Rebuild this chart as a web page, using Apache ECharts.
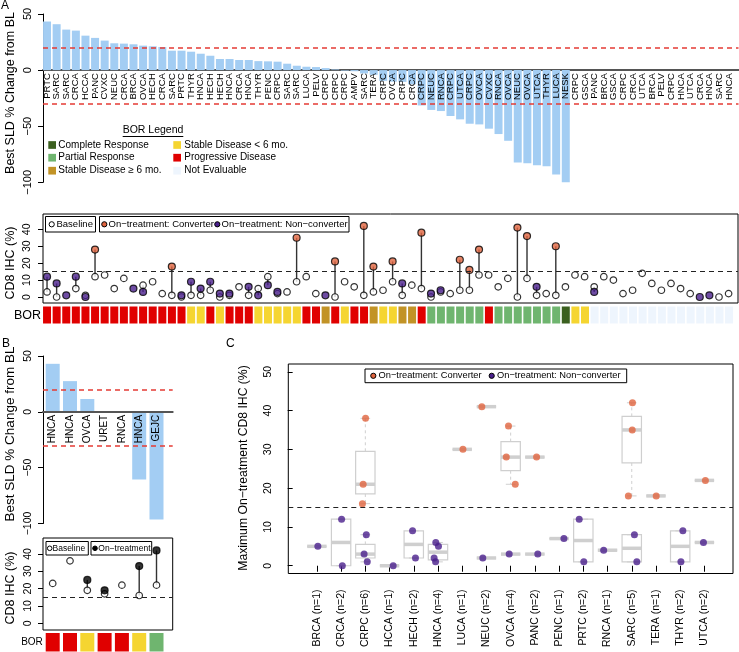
<!DOCTYPE html>
<html><head><meta charset="utf-8">
<script src="https://cdn.jsdelivr.net/npm/echarts@6/dist/echarts.min.js"></script>
<style>html,body{margin:0;padding:0;background:#fff}#c{width:739px;height:652px}</style>
</head><body><div id="c"></div>
<script>
// ---------------- DATA ----------------
// Panel A: waterfall categories (tumour types), best SLD % change, BOR, CD8 IHC
const waterfallCats = ['PRTC','SARC','SARC','CRCA','HCCA','PANC','CVXC','NEUC','CRCA','BRCA',
  'OVCA','HECH','CRCA','SARC','PRTC','THYR','HNCA','HECH','HECH','HNCA',
  'CRCA','HNCA','THYR','PENC','CRPC','SARC','SARC','LUCA','PELV','CRPC',
  'CRPC','CRPC','AMPV','SARC','TERA','CRPC','OVCA','CRPC','CRCA','CRPC',
  'NEUC','RNCA','CRPC','UTCA','CRPC','OVCA','CVXC','RNCA','OVCA','NEUC',
  'OVCA','UTCA','THYR','LUCA','NESK','CRPC','GSCA','PANC','BRCA','GSCA',
  'CRPC','CRCA','UTCA','BRCA','PELV','CRPC','HNCA','UTCA','CRCA','HNCA',
  'SARC','HNCA'];
const waterfallChange = [43.3,40.9,36.1,35.2,30.7,28.7,26.3,23.9,23.6,23.0,
  21.8,21.2,20.6,17.3,17.3,16.4,14.6,12.8,9.9,9.9,
  9.0,9.0,8.0,7.8,7.5,5.7,3.9,3.0,2.7,1.8,
  0.6,-0.5,-1.0,-3.0,-4.2,-9.6,-10.3,-10.5,-12.6,-31.5,
  -35.5,-36.5,-40.9,-43.9,-47.8,-48.4,-52.2,-57.0,-63.0,-82.4,
  -83.0,-84.8,-85.7,-93.0,-100.0,null,null,null,null,null,
  null,null,null,null,null,null,null,null,null,null,
  null,null];
const borA = ['PD','PD','PD','PD','PD','PD','PD','PD','PD','PD',
  'PD','PD','PD','PD','PD','SD','SD','PD','SD','PD',
  'PD','PD','SD','SD','SD','SD','SD','PD','PD','SD6',
  'PD','SD','PD','PD','SD6','SD','SD','SD6','SD6','PD',
  'PR','PR','PR','PR','PR','PR','PD','PR','PR','PR',
  'PR','PR','PR','PR','CR','SD','SD','NE','NE','NE',
  'NE','NE','NE','NE','NE','NE','NE','NE','NE','NE',
  'NE','NE'];
const cd8Baseline = [3,0,null,5,1,12,13,5,11,null,
  7,9,2,1,0,1,1,4,0,1,
  6,1,5,12,2,3,9,12,2,null,
  0,9,6,1,3,4,9,1,7,5,
  0,3,2,4,4,13,13,6,11,0,
  11,1,2,1,6,13,12,6,12,10,
  2,4,14,8,4,8,5,2,null,null,
  0,2];
const cd8Converter = [null,null,null,null,null,28,null,null,null,null,
  null,null,null,18,null,null,null,null,null,null,
  null,null,null,null,null,null,35,null,null,null,
  21,null,null,42,18,null,21,null,null,38,
  null,null,null,22,16,28,null,null,null,41,
  36,null,null,30,null,null,null,null,null,null,
  null,null,null,null,null,null,null,null,null,null,
  null,null];
const cd8NonConverter = [12,8,1,12,0,null,null,null,null,5,
  3,null,null,null,1,9,5,9,2,2,
  null,6,1,7,3,null,null,null,null,1,
  null,null,null,null,null,null,null,8,null,null,
  2,4,null,null,null,null,null,null,null,null,
  null,6,null,null,null,null,null,3,null,null,
  null,null,null,null,null,null,null,null,0,1,
  null,null];

// Panel B
const bCats = ['HNCA','HNCA','OVCA','URET','RNCA','HNCA','GEJC'];
const bChange = [43.0,27.5,11.5,null,null,-60.5,-96.5];
const bBaseline = [23,36,19,17,22,16,22];
const bOnTreatment = [null,null,25,19,null,33,42];
const borB = ['PD','PD','SD','PD','PD','SD','PR'];

// Panel C: tumour types, points [type position, horizontal jitter, max on-treatment CD8 %]
const cTickLabels = ['BRCA (n=1)','CRCA (n=2)','CRPC (n=6)','HCCA (n=1)','HECH (n=2)','HNCA (n=4)',
  'LUCA (n=1)','NEUC (n=2)','OVCA (n=4)','PANC (n=2)','PENC (n=1)','PRTC (n=2)','RNCA (n=1)',
  'SARC (n=5)','TERA (n=1)','THYR (n=2)','UTCA (n=2)'];
const cConverterPts = [[3,0.01,38],[3,-0.09,21],[3,-0.12,16],[7,0.03,30],[8,-0.19,41],
  [9,-0.09,36],[9,-0.18,28],[9,0.19,21],[10,0.07,28],[14,0.03,42],[14,0.02,35],[14,-0.14,18],
  [15,0.01,18],[17,0.04,22]];
const cNonConverterPts = [[1,0.04,5],[2,0.02,12],[2,0.05,0],[3,0.04,8],[3,-0.05,3],[3,0.08,1],
  [4,0.15,0],[5,-0.05,9],[5,0.07,2],[6,-0.09,6],[6,0.02,5],[6,-0.16,2],[6,-0.10,1],
  [8,-0.15,2],[9,-0.06,3],[10,0.12,3],[11,0.20,7],[12,-0.17,12],[12,0.02,1],[13,-0.16,4],
  [14,0.11,8],[14,0.21,1],[16,0.11,9],[16,0.03,1],[17,-0.04,6]];

// BOR legend
const borLegendCol1 = [['CR','Complete Response'],['PR','Partial Response'],['SD6','Stable Disease \u2265 6 mo.']];
const borLegendCol2 = [['SD','Stable Disease < 6 mo.'],['PD','Progressive Disease'],['NE','Not Evaluable']];

// ---------------- STYLE ----------------
const FONT = '"Liberation Sans", Arial, Helvetica, sans-serif';
const BLUE = '#a3cdf3';
const ORANGE = '#e0643f';
const PURPLE = '#4a1f8c';
const borColors = {CR:'#3b601f', PR:'#6fb56f', SD6:'#c29326', SD:'#f5d531', PD:'#e00000', NE:'#eef5fd'};
const minus = v => v < 0 ? '\u2212' + Math.abs(v) : String(v);
const XA = {min:0.58, max:72.98};
const XB = {min:0.439, max:7.936};
const XC = {min:-0.18, max:18.18};
const SLD = {min:-100, max:50};
const idxA = waterfallCats.map((_, i) => i + 1);
const idxB = bCats.map((_, i) => i + 1);
const idxC = cTickLabels.map((_, i) => i + 1);
const GA = {left: 43, top: 14, width: 695.5, height: 168.3};
const bandA = GA.width / (XA.max - XA.min);          // px per category in panel A
const GA_LBL = {left: GA.left + (0.5 - XA.min) * bandA, top: GA.top, width: waterfallCats.length * bandA, height: GA.height};
const GB = {left: 43, top: 356, width: 129.7, height: 167.5};
// shift the bottom axis up to the zero line of the SLD scale
const zeroOffset = g => -g.height * (0 - SLD.min) / (SLD.max - SLD.min);

function fivenum(arr) {
  const x = arr.slice().sort((a, b) => a - b), n = x.length;
  const n4 = Math.floor((n + 3) / 2) / 2;
  const d = [1, n4, (n + 1) / 2, n + 1 - n4, n];
  return d.map(k => 0.5 * (x[Math.floor(k) - 1] + x[Math.ceil(k) - 1]));
}
function boxStats(pts) {
  const groups = {};
  pts.forEach(p => { (groups[p[0]] = groups[p[0]] || []).push(p[2]); });
  return Object.keys(groups).map(k => [Number(k)].concat(fivenum(groups[k])));
}
const cBoxes = boxStats(cConverterPts).concat(boxStats(cNonConverterPts));

function stems(base, on) {
  const out = [];
  base.forEach((b, i) => { if (b != null && on[i] != null) out.push([i + 1, b, on[i]]); });
  return out;
}
const pairs = arr => arr.map((v, i) => v == null ? null : [i + 1, v]).filter(Boolean);
const stemsA = stems(cd8Baseline, cd8Converter.map((v, i) => v != null ? v : cd8NonConverter[i]));
const stemsB = stems(bBaseline, bOnTreatment);

// ---------------- GRAPHICS (text, legends) ----------------
const G = [];
const T = (x, y, text, size, o = {}) => G.push({
  type: 'text', x, y, rotation: o.rot || 0, z: 100,
  style: { text, fill: '#000', font: size + 'px ' + FONT,
    align: o.align || 'left', verticalAlign: 'middle',
    textAlign: o.align || 'left', textVerticalAlign: 'middle' }
});
const RC = (x, y, w, h, fill, stroke) => G.push({type:'rect', z:99, shape:{x, y, width:w, height:h},
  style:{fill: fill, stroke: stroke, lineWidth: 1}});
const CI = (cx, cy, r, fill) => G.push({type:'circle', z:101, shape:{cx, cy, r}, style:{fill, stroke:'#000', lineWidth:1}});
const LN = (x1, y1, x2, y2) => G.push({type:'line', z:100, shape:{x1, y1, x2, y2}, style:{stroke:'#000', lineWidth:1}});
const ROT = Math.PI / 2;

T(1, 6, 'A', 12); T(2, 344, 'B', 12); T(226, 344, 'C', 12);
T(11, 93, 'Best SLD % Change from BL', 12.5, {rot: ROT, align: 'center'});
T(11, 263, 'CD8 IHC (%)', 12.5, {rot: ROT, align: 'center'});
T(10, 434, 'Best SLD % Change from BL', 13.5, {rot: ROT, align: 'center'});
T(11, 588, 'CD8 IHC (%)', 12.5, {rot: ROT, align: 'center'});
T(244, 468, 'Maximum On\u2212treatment CD8 IHC (%)', 12.2, {rot: ROT, align: 'center'});
T(27.5, 315.5, 'BOR', 12.5, {align: 'center'});
T(32, 642, 'BOR', 10, {align: 'center'});

// BOR legend
T(153, 130, 'BOR Legend', 10.5, {align: 'center'});
LN(122.7, 136.5, 183.3, 136.5);
const rowsY = [145, 157.7, 170.7];
borLegendCol1.forEach((e, i) => { RC(48.3, rowsY[i] - 3.85, 7.7, 7.7, borColors[e[0]], 'none'); T(58.3, rowsY[i], e[1], 10); });
borLegendCol2.forEach((e, i) => { RC(173.3, rowsY[i] - 3.85, 7.7, 7.7, borColors[e[0]], 'none'); T(184.3, rowsY[i], e[1], 10); });

// Panel A CD8 legend
RC(45.5, 216.5, 50, 15.5, '#fff', '#000');
CI(51.7, 224.3, 2.6, '#fff'); T(56.5, 224.3, 'Baseline', 9.5);
RC(99.5, 216.5, 249.5, 15.5, '#fff', '#000');
CI(104.3, 224.3, 2.6, ORANGE); T(108.5, 224.3, 'On\u2212treatment: Converter', 9.5);
CI(217.3, 224.3, 2.6, PURPLE); T(221.5, 224.3, 'On\u2212treatment: Non\u2212converter', 9.5);
// Panel B CD8 legend
RC(46, 541.5, 42.3, 13.5, '#fff', '#000');
CI(49.7, 548.3, 2.3, '#fff'); T(52.5, 548.3, 'Baseline', 8.5);
RC(91, 541.5, 60.7, 13.5, '#fff', '#000');
CI(95, 548.3, 2.3, '#000'); T(98.3, 548.3, 'On\u2212treatment', 8.5);
// Panel C legend
RC(365, 369, 261.7, 13.7, '#fff', '#000');
CI(373.3, 375.8, 2.6, ORANGE); T(378.5, 375.8, 'On\u2212treatment: Converter', 9.3);
CI(491.7, 375.8, 2.6, PURPLE); T(497, 375.8, 'On\u2212treatment: Non\u2212converter', 9.3);

// ---------------- AXES ----------------
const lbl = (o) => Object.assign({color:'#000', fontFamily: FONT}, o);
const hiddenX = (g, ext) => ({gridIndex: g, type: 'value', min: ext.min, max: ext.max, show: false});
const hiddenY = (g, ext) => ({gridIndex: g, type: 'value', min: ext ? ext.min : 0, max: ext ? ext.max : 1, show: false});
const sldY = (g, fs) => ({gridIndex: g, type: 'value', min: SLD.min, max: SLD.max, interval: 50,
  axisLine: {show: true, onZero: false, lineStyle: {color: '#000', width: 1}},
  axisTick: {show: true, length: 5, lineStyle: {color: '#000'}},
  splitLine: {show: false},
  axisLabel: lbl({rotate: 90, margin: 9.5, fontSize: fs, formatter: minus})});
const cd8Y = (g, min, max, margin, ticks) => ({gridIndex: g, type: 'value', min, max,
  axisLine: {show: false}, splitLine: {show: false},
  axisTick: {show: true, length: 5, customValues: ticks, lineStyle: {color: '#000'}},
  axisLabel: lbl({rotate: 90, margin, fontSize: 10.5, customValues: ticks})});
const zeroLine = {onZero: false, lineStyle: {color: '#555', width: 2}};

const option = {
  animation: false,
  textStyle: {fontFamily: FONT},
  grid: [
    GA,
    {left: 43, top: 214, width: 695, height: 89, show: true, borderColor: '#000', borderWidth: 1},
    {left: 43, top: 306.5, width: 695.5, height: 17},
    GB,
    {left: 43, top: 538, width: 129.7, height: 92, show: true, borderColor: '#000', borderWidth: 1},
    {left: 43, top: 633, width: 129.7, height: 18.5},
    {left: 288.3, top: 364, width: 444.7, height: 209.5, show: true, borderColor: '#000', borderWidth: 1},
    GA_LBL
  ],
  xAxis: [
    {gridIndex: 0, type: 'value', min: XA.min, max: XA.max, position: 'bottom', offset: zeroOffset(GA),
      axisLine: zeroLine, axisTick: {show: false}, splitLine: {show: false}, axisLabel: {show: false}},
    hiddenX(1, XA), hiddenX(2, XA),
    {gridIndex: 3, type: 'value', min: XB.min, max: XB.max, z: 5, position: 'bottom', offset: zeroOffset(GB),
      axisLine: zeroLine, axisTick: {show: false}, splitLine: {show: false},
      axisLabel: lbl({customValues: idxB, formatter: v => bCats[v - 1], rotate: 90, margin: 3, fontSize: 10,
        showMinLabel: true, showMaxLabel: true})},
    hiddenX(4, XB), hiddenX(5, XB),
    {gridIndex: 6, type: 'value', min: XC.min, max: XC.max,
      axisLine: {show: false}, splitLine: {show: false},
      axisTick: {show: true, length: 6, customValues: idxC, lineStyle: {color: '#000'}},
      axisLabel: lbl({customValues: idxC, formatter: v => cTickLabels[v - 1], rotate: 90, margin: 16, fontSize: 10.5,
        showMinLabel: true, showMaxLabel: true})},
    // category label axis for the panel A waterfall (aligned with the bars)
    {gridIndex: 7, type: 'category', data: waterfallCats, position: 'bottom', offset: zeroOffset(GA_LBL), z: 5,
      axisLine: {show: false}, axisTick: {show: false}, splitLine: {show: false},
      axisLabel: lbl({interval: 0, rotate: 90, margin: 3, fontSize: 9.5})}
  ],
  yAxis: [
    sldY(0, 11),
    cd8Y(1, -3.55, 49.05, 10.5, [0, 10, 20, 30, 40]),
    hiddenY(2),
    sldY(3, 10.5),
    cd8Y(4, -3.9, 49.2, 9.7, [0, 10, 20, 30, 40]),
    hiddenY(5),
    cd8Y(6, -2, 52, 14.5, [0, 10, 20, 30, 40, 50]),
    hiddenY(7, SLD)
  ],
  graphic: {elements: G},
  series: []
};

const redLines = {silent: true, symbol: 'none', label: {show: false},
  lineStyle: {color: '#e53b35', type: [5, 4], width: 1.5}, data: [{yAxis: 20}, {yAxis: -30}]};
const blackLine = {silent: true, symbol: 'none', label: {show: false},
  lineStyle: {color: '#222', type: [5, 4], width: 1}, data: [{yAxis: 15}]};

const stemSeries = (xi, yi, data) => ({type: 'custom', xAxisIndex: xi, yAxisIndex: yi, data, z: 2, silent: true,
  renderItem: (p, api) => {
    const a = api.coord([api.value(0), api.value(1)]);
    const b = api.coord([api.value(0), api.value(2)]);
    return {type: 'line', shape: {x1: a[0], y1: a[1], x2: b[0], y2: b[1]}, style: {stroke: '#333', lineWidth: 1.4}};
  }});
const dots = (xi, yi, data, fill, stroke, size, extra) => Object.assign({type: 'scatter', xAxisIndex: xi, yAxisIndex: yi,
  data, symbol: 'circle', symbolSize: size, z: 3, silent: true, clip: false,
  itemStyle: {color: fill, borderColor: stroke, borderWidth: stroke ? 1.2 : 0}}, extra || {});
const borBars = (xi, yi, bor, w) => ({type: 'bar', xAxisIndex: xi, yAxisIndex: yi, barWidth: w, silent: true,
  data: bor.map((c, i) => ({value: [i + 1, 1], itemStyle: {color: borColors[c]}}))});

option.series.push(
  // Panel A
  {type: 'bar', xAxisIndex: 0, yAxisIndex: 0, barWidth: 8, silent: true, itemStyle: {color: BLUE},
    data: pairs(waterfallChange), markLine: redLines},
  borBars(2, 2, borA, 8),
  stemSeries(1, 1, stemsA),
  dots(1, 1, pairs(cd8Baseline), '#fff', '#000', 6.5, {markLine: blackLine}),
  dots(1, 1, pairs(cd8Converter), ORANGE, '#000', 7),
  dots(1, 1, pairs(cd8NonConverter), PURPLE, '#000', 7),
  // Panel B
  {type: 'bar', xAxisIndex: 3, yAxisIndex: 3, barWidth: 14, silent: true, itemStyle: {color: BLUE},
    data: pairs(bChange), markLine: redLines},
  borBars(5, 5, borB, 14),
  stemSeries(4, 4, stemsB),
  dots(4, 4, pairs(bBaseline), '#fff', '#000', 6.5, {markLine: blackLine}),
  dots(4, 4, pairs(bOnTreatment), '#000', '#000', 7),
  // Panel C
  {type: 'custom', xAxisIndex: 6, yAxisIndex: 6, data: cBoxes, z: 2, silent: true, markLine: blackLine,
    renderItem: (p, api) => {
      const x = api.value(0), mn = api.value(1), q1 = api.value(2), md = api.value(3), q3 = api.value(4), mx = api.value(5);
      const hw = 0.4, cw = 0.2, c = '#cfcfcf';
      const P = (a, b) => api.coord([a, b]);
      const lo = P(x - hw, q1), hi = P(x + hw, q3);
      const line = (a, b, w, dash) => ({type: 'line', shape: {x1: a[0], y1: a[1], x2: b[0], y2: b[1]},
        style: {stroke: c, lineWidth: w, lineDash: dash || null}});
      return {type: 'group', children: [
        line(P(x, q3), P(x, mx), 1, [3, 3]),
        line(P(x, q1), P(x, mn), 1, [3, 3]),
        line(P(x - cw, mx), P(x + cw, mx), 1),
        line(P(x - cw, mn), P(x + cw, mn), 1),
        {type: 'rect', shape: {x: lo[0], y: hi[1], width: hi[0] - lo[0], height: lo[1] - hi[1]},
          style: {fill: 'none', stroke: c, lineWidth: 1.2}},
        line(P(x - hw, md), P(x + hw, md), 3.5)
      ]};
    }},
  dots(6, 6, cConverterPts.map(p => [p[0] + p[1], p[2]]), ORANGE, null, 7),
  dots(6, 6, cNonConverterPts.map(p => [p[0] + p[1], p[2]]), PURPLE, null, 7)
);

const chart = echarts.init(document.getElementById('c'), null, {renderer: 'canvas'});
chart.setOption(option);
</script>
</body></html>
